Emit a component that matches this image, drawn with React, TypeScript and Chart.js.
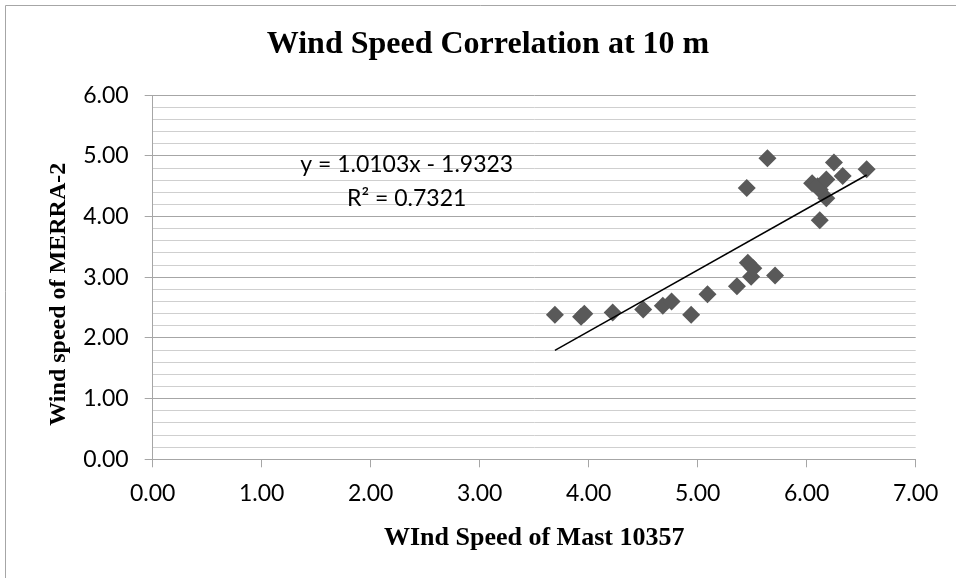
import React, { useEffect, useRef } from 'react';
import { Chart, registerables } from 'chart.js';

Chart.register(...registerables);

// ---- data ----
const mastSpeed = [3.69, 3.93, 3.96, 4.22, 4.5, 4.68, 4.76, 4.94, 5.09, 5.36, 5.45, 5.46, 5.49, 5.51, 5.64, 5.71, 6.05, 6.1, 6.12, 6.12, 6.18, 6.18, 6.25, 6.33, 6.55];
const merraSpeed = [2.38, 2.35, 2.4, 2.42, 2.47, 2.53, 2.6, 2.38, 2.72, 2.85, 4.47, 3.24, 3.01, 3.15, 4.96, 3.03, 4.55, 4.5, 3.94, 4.44, 4.61, 4.3, 4.89, 4.67, 4.78];

const trendSlope = 1.0103;
const trendIntercept = -1.9323;
const rSquared = 0.7321;

const chartTitle = 'Wind Speed Correlation at 10 m';
const xAxisTitle = 'WInd Speed of Mast 10357';
const yAxisTitle = 'Wind speed of MERRA-2';
const equationText = 'y = 1.0103x - 1.9323';
const rSquaredText = 'R\u00b2 = ' + rSquared.toFixed(4);

const xMin = 0;
const xMax = 7;
const yMin = 0;
const yMax = 6;

const W = 956;
const H = 578;

const TICK_FONT = 'Lato';
const SERIF = 'Liberation Serif';
const MAJOR = '#a6a6a6';
const MINOR = '#cfcfcf';

const isMajor = (v: number) => Math.abs(v - Math.round(v)) < 1e-6;

const decorPlugin = {
  id: 'decor',
  beforeDraw(chart: any) {
    const ctx = chart.ctx;
    ctx.save();
    ctx.strokeStyle = '#a6a6a6';
    ctx.lineWidth = 1;
    ctx.beginPath();
    ctx.moveTo(5.5, H);
    ctx.lineTo(5.5, 5.5);
    ctx.lineTo(W, 5.5);
    ctx.stroke();
    ctx.restore();
  },
  afterDraw(chart: any) {
    const ctx = chart.ctx;
    const xs = chart.scales.x;
    const ys = chart.scales.y;
    const area = chart.chartArea;
    ctx.save();
    // trendline equation
    ctx.fillStyle = '#000';
    ctx.font = `23px ${TICK_FONT}`;
    ctx.textAlign = 'center';
    ctx.textBaseline = 'middle';
    const ex = xs.getPixelForValue(2.33);
    ctx.fillText(equationText, ex, ys.getPixelForValue(4.85));
    ctx.fillText(rSquaredText, ex, ys.getPixelForValue(4.3));
    // y axis title
    ctx.font = `bold 24px ${SERIF}`;
    ctx.translate(58.5, (area.top + area.bottom) / 2 + 17);
    ctx.rotate(-Math.PI / 2);
    ctx.fillText(yAxisTitle, 0, 0);
    ctx.restore();
  },
};

export default function App() {
  const ref = useRef<HTMLCanvasElement | null>(null);

  useEffect(() => {
    if (!ref.current) return;
    const points = mastSpeed.map((x, i) => ({ x, y: merraSpeed[i] }));
    const tMin = Math.min(...mastSpeed);
    const tMax = Math.max(...mastSpeed);
    const trend = [
      { x: tMin, y: trendSlope * tMin + trendIntercept },
      { x: tMax, y: trendSlope * tMax + trendIntercept },
    ];

    const chart = new Chart(ref.current, {
      type: 'scatter',
      data: {
        datasets: [
          {
            type: 'line',
            label: 'Linear trend',
            data: trend,
            borderColor: '#000',
            borderWidth: 1.5,
            pointRadius: 0,
            fill: false,
            showLine: true,
          } as any,
          {
            label: 'Wind speed',
            data: points,
            pointStyle: 'rectRot',
            pointRadius: 9,
            pointHoverRadius: 9,
            backgroundColor: '#595959',
            borderColor: '#595959',
            borderWidth: 0,
          },
        ],
      },
      options: {
        responsive: false,
        animation: false,
        devicePixelRatio: 1,
        layout: { padding: { left: 60.3, right: 40.3, top: 0, bottom: 0 } },
        plugins: {
          legend: { display: false },
          tooltip: { enabled: false },
          title: {
            display: true,
            text: chartTitle,
            color: '#000',
            font: { family: SERIF, size: 32, weight: 'bold' },
            padding: { top: 26, bottom: 30.8 },
          },
        },
        scales: {
          x: {
            type: 'linear',
            min: xMin,
            max: xMax,
            ticks: {
              stepSize: 1,
              color: '#000',
              font: { family: TICK_FONT, size: 23 },
              padding: 12,
              callback: (v: any) => Number(v).toFixed(2),
            },
            grid: {
              drawOnChartArea: false,
              drawTicks: true,
              tickLength: 8,
              color: MAJOR,
              tickColor: MAJOR,
            },
            border: { display: true, color: MAJOR, width: 1 },
            title: {
              display: true,
              text: xAxisTitle,
              color: '#000',
              font: { family: SERIF, size: 26, weight: 'bold' },
              padding: { top: 0, bottom: 24 },
            },
            afterFit: (s: any) => {
              s.height = 118.7;
            },
          },
          y: {
            type: 'linear',
            min: yMin,
            max: yMax,
            ticks: {
              stepSize: 0.2,
              autoSkip: false,
              color: '#000',
              font: { family: TICK_FONT, size: 23 },
              padding: 16,
              callback: (v: any) => (isMajor(Number(v)) ? Number(v).toFixed(2) : ''),
            },
            grid: {
              drawTicks: true,
              tickLength: 8,
              color: (c: any) => (c.tick && isMajor(c.tick.value) ? MAJOR : MINOR),
              tickColor: (c: any) => (c.tick && isMajor(c.tick.value) ? MAJOR : 'rgba(0,0,0,0)'),
            },
            border: { display: true, color: MAJOR, width: 1 },
            title: { display: false },
            afterFit: (s: any) => {
              s.width = 92.4;
            },
          },
        },
      },
      plugins: [decorPlugin],
    });

    return () => chart.destroy();
  }, []);

  return (
    <div style={{ position: 'absolute', left: 0, top: 0, width: W, height: H, background: '#fff' }}>
      <canvas ref={ref} width={W} height={H} style={{ display: 'block', width: W, height: H }} />
    </div>
  );
}
